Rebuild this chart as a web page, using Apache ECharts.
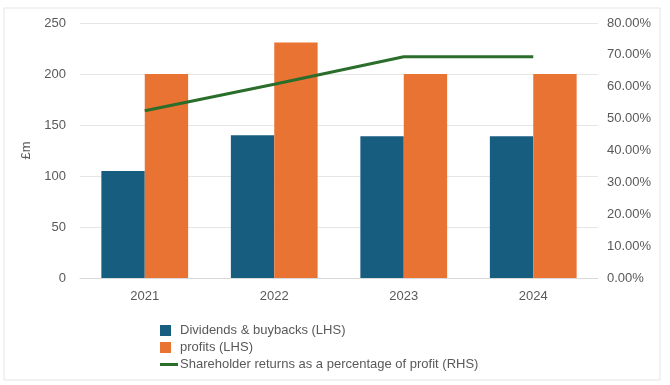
<!DOCTYPE html>
<html><head><meta charset="utf-8">
<script src="https://cdn.jsdelivr.net/npm/echarts@6/dist/echarts.min.js"></script>
<style>html,body{margin:0;padding:0;background:#fff}#c{width:670px;height:385px}</style>
</head><body><div id="c"></div>
<script>
const categories = ['2021', '2022', '2023', '2024'];
const dividends = [105, 140, 139, 139];
const profits = [200, 231, 200, 200];
const returnsPct = [52.5, 60.8, 69.4, 69.4];
const leftTicks = {min: 0, max: 250, interval: 50};
const rightTicks = {min: 0, max: 80, interval: 10};

const chart = echarts.init(document.getElementById('c'));
const txt = '#595959';
const ff = 'Liberation Sans, Arial, sans-serif';
const sq = 'path://M0,0 L11,0 L11,11 L0,11 Z M18,5.5 L18,5.5 Z';
chart.setOption({
  animation: false,
  backgroundColor: '#fff',
  graphic: [{type: 'rect', shape: {x: 4, y: 8, width: 656, height: 372}, style: {fill: 'none', stroke: '#e6e6e6', lineWidth: 1}, silent: true}],
  grid: {left: 80, right: 72, top: 23, bottom: 107, containLabel: false},
  legend: {
    orient: 'vertical', left: 155, top: 319, itemGap: 4, itemWidth: 18, itemHeight: 11,
    textStyle: {color: txt, fontSize: 13, fontFamily: ff, padding: [0, 0, 0, -3]},
    data: [
      {name: 'Dividends & buybacks (LHS)', icon: sq},
      {name: 'profits (LHS)', icon: sq},
      {name: 'Shareholder returns as a percentage of profit (RHS)', icon: 'path://M0,0 L18,0 L18,3 L0,3 Z'}
    ]
  },
  xAxis: {
    type: 'category', data: categories,
    axisLine: {show: true, lineStyle: {color: '#d9d9d9'}}, axisTick: {show: false},
    axisLabel: {color: txt, fontSize: 13, margin: 12, fontFamily: ff}
  },
  yAxis: [{
    type: 'value', min: leftTicks.min, max: leftTicks.max, interval: leftTicks.interval,
    name: '£m', nameLocation: 'middle', nameGap: 46, nameRotate: 90,
    nameTextStyle: {color: txt, fontSize: 13, fontFamily: ff},
    axisLine: {show: false}, axisTick: {show: false},
    axisLabel: {color: txt, fontSize: 13, margin: 14, fontFamily: ff},
    splitLine: {lineStyle: {color: '#e6e6e6'}}
  }, {
    type: 'value', min: rightTicks.min, max: rightTicks.max, interval: rightTicks.interval, position: 'right',
    axisLine: {show: false}, axisTick: {show: false}, splitLine: {show: false},
    axisLabel: {color: txt, fontSize: 13, margin: 9, fontFamily: ff, formatter: v => v.toFixed(2) + '%'}
  }],
  series: [{
    name: 'Dividends & buybacks (LHS)', type: 'bar', data: dividends, barGap: '0%', barCategoryGap: '33%',
    itemStyle: {color: '#175d80'}
  }, {
    name: 'profits (LHS)', type: 'bar', data: profits,
    itemStyle: {color: '#e97333'}
  }, {
    name: 'Shareholder returns as a percentage of profit (RHS)', type: 'line', yAxisIndex: 1, data: returnsPct,
    symbol: 'none', lineStyle: {color: '#2b6e2b', width: 3}, itemStyle: {color: '#2b6e2b'}
  }]
});
</script></body></html>
